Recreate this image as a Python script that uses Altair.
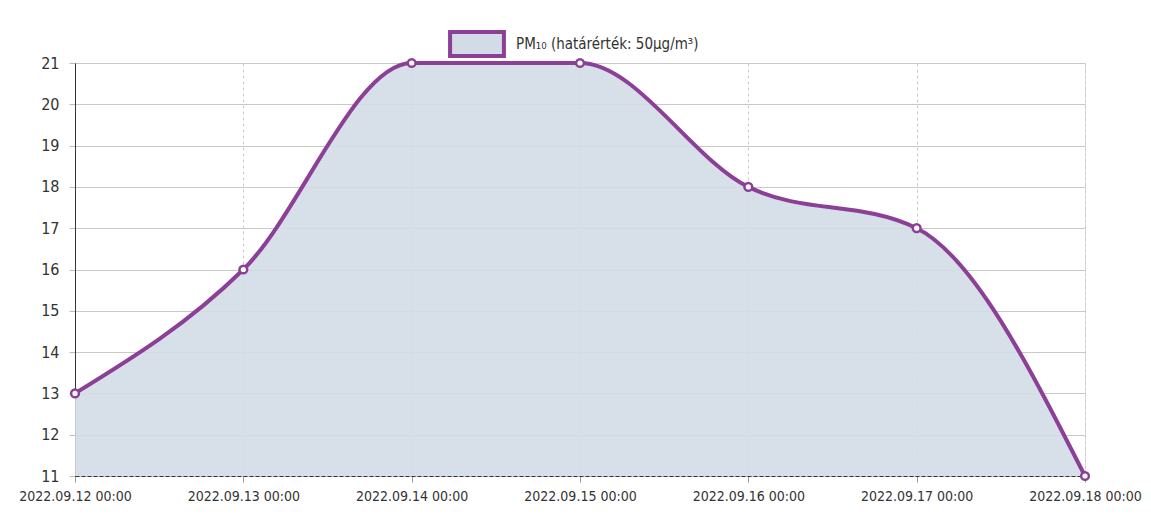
import altair as alt
import pandas as pd

dates = ["2022-09-12T00:00", "2022-09-13T00:00", "2022-09-14T00:00", "2022-09-15T00:00",
         "2022-09-16T00:00", "2022-09-17T00:00", "2022-09-18T00:00"]
values = [13, 16, 21, 21, 18, 17, 11]
series_name = "PM₁₀ (határérték: 50µg/m³)"

df = pd.DataFrame({"date": dates, "value": values, "series": [series_name] * len(dates)})

PURPLE = "#8c3f96"
FILL = "#d3dce6"
FONT = "'DejaVu Sans Condensed', 'Liberation Sans Narrow', 'Liberation Sans', sans-serif"

x = alt.X("date:T", title=None,
          axis=alt.Axis(format="%Y.%m.%d %H:%M", tickCount=alt.TickCount(interval="day", step=1),
                        labelFontSize=14, labelColor="#333", labelFont=FONT, labelPadding=7,
                        grid=True, gridDash=[3, 3], gridColor="#cccccc",
                        domainColor="#333", domainDash=[4, 2], tickColor="#999", tickSize=6,
                        labelFlush=False, labelOverlap=False))
y = alt.Y("value:Q", title=None,
          scale=alt.Scale(domain=[11, 21], nice=False, zero=False),
          axis=alt.Axis(values=list(range(11, 22)), labelFontSize=16, labelColor="#333",
                        labelFont=FONT, labelPadding=10, grid=True, gridColor="#c8c8c8",
                        domainColor="#333", tickColor="#bbb", tickSize=6))

base = alt.Chart(df).encode(x=x, y=y)

area = base.mark_area(interpolate="monotone", opacity=0.9, clip=True).encode(
    color=alt.Color("series:N", scale=alt.Scale(range=[FILL]),
                    legend=alt.Legend(title=None, orient="none", legendX=373, legendY=-48,
                                      symbolType="M-1,-0.45L1,-0.45L1,0.45L-1,0.45Z",
                                      symbolSize=2900, symbolStrokeColor=PURPLE,
                                      symbolStrokeWidth=4, symbolFillColor=FILL, symbolOpacity=1,
                                      labelFontSize=15, labelFont=FONT, labelColor="#333",
                                      labelOffset=10, labelLimit=0))
)
line = base.mark_line(interpolate="monotone", color=PURPLE, strokeWidth=4)
points = base.mark_point(shape="circle", filled=True, fill="white", stroke=PURPLE,
                         strokeWidth=2.5, size=60, opacity=1)

chart = alt.layer(area, line, points).properties(
    width=1010, height=413,
    autosize=alt.AutoSizeParams(type="none"),
    padding={"left": 67, "top": 55, "right": 58, "bottom": 35},
).configure_view(stroke=None).configure(background="white")

chart.save("out.html", embed_options={"renderer": "svg", "actions": False})
